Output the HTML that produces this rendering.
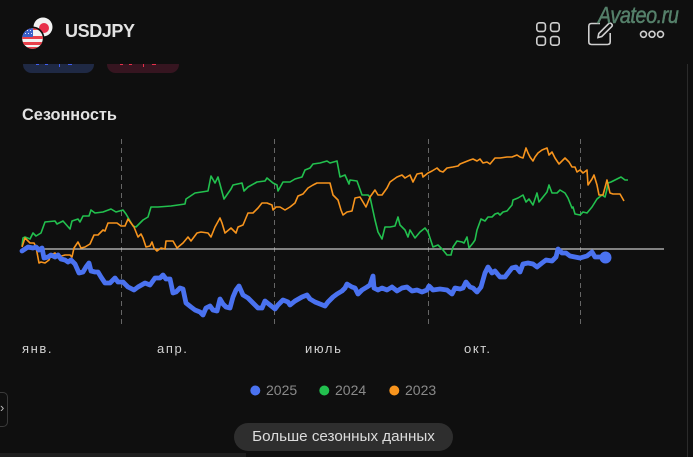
<!DOCTYPE html>
<html><head><meta charset="utf-8">
<style>
html,body{margin:0;padding:0;background:#0f0f0f;}
body{width:693px;height:457px;position:relative;overflow:hidden;font-family:"Liberation Sans",sans-serif;}
.abs{position:absolute;}
</style></head>
<body>
<div class="abs" style="left:0;top:0;width:693px;height:1px;background:#2a2a2a"></div>
<div class="abs" style="left:687px;top:0;width:1px;height:457px;background:#2b2b2b"></div>
<div class="abs" style="left:0;top:453px;width:246px;height:4px;background:#1e1e1e"></div>

<!-- pills (clipped) -->
<div class="abs" style="left:23px;top:56px;width:71px;height:17px;border-radius:9px;background:#1f2944;overflow:hidden"></div>
<div class="abs" style="left:0;top:0;width:693px;height:64px;background:#0f0f0f"></div>
<div class="abs" style="left:107px;top:56px;width:72px;height:17px;border-radius:9px;background:#361520;clip-path:inset(8px 0 0 0)"></div>
<div class="abs" style="left:36px;top:64px;width:3px;height:1px;background:#3f5ef0"></div>
<div class="abs" style="left:45px;top:64px;width:3px;height:1px;background:#3f5ef0"></div>
<div class="abs" style="left:59px;top:64px;width:1px;height:3px;background:#3f5ef0"></div>
<div class="abs" style="left:68px;top:64px;width:4px;height:1px;background:#3f5ef0"></div>
<div class="abs" style="left:120px;top:64px;width:3px;height:1px;background:#e8304a"></div>
<div class="abs" style="left:129px;top:64px;width:3px;height:1px;background:#e8304a"></div>
<div class="abs" style="left:143px;top:64px;width:1px;height:3px;background:#e8304a"></div>
<div class="abs" style="left:152px;top:64px;width:4px;height:1px;background:#e8304a"></div>

<!-- header -->
<svg class="abs" style="left:0;top:0" width="693" height="60">
  <circle cx="43" cy="27" r="9.5" fill="#f2f2f2"/>
  <circle cx="44" cy="28" r="5" fill="#e8304a"/>
  <circle cx="32.5" cy="38.5" r="12" fill="#0f0f0f"/>
  <clipPath id="us"><circle cx="32.5" cy="38.5" r="10.3"/></clipPath>
  <g clip-path="url(#us)">
    <rect x="20" y="27" width="26" height="24" fill="#f2f2f2"/>
    <rect x="20" y="36" width="26" height="3" fill="#e8404a"/>
    <rect x="20" y="42" width="26" height="3" fill="#e8404a"/>
    <rect x="20" y="47" width="26" height="4" fill="#e8404a"/>
    <rect x="20" y="27" width="26" height="3" fill="#e8404a"/>
    <rect x="20" y="27" width="13" height="10" fill="#3a5fc8"/>
    <g fill="#dfe6ff">
      <rect x="24" y="30" width="1" height="1"/><rect x="27" y="30" width="1" height="1"/><rect x="30" y="30" width="1" height="1"/>
      <rect x="25" y="33" width="1" height="1"/><rect x="28" y="33" width="1" height="1"/><rect x="31" y="33" width="1" height="1"/>
    </g>
  </g>
  <!-- grid icon -->
  <g fill="none" stroke="#cfcfcf" stroke-width="1.6">
    <rect x="536.8" y="22.8" width="8.6" height="8.6" rx="2.5"/>
    <rect x="550.6" y="22.8" width="8.6" height="8.6" rx="2.5"/>
    <rect x="536.8" y="36.6" width="8.6" height="8.6" rx="2.5"/>
    <rect x="550.6" y="36.6" width="8.6" height="8.6" rx="2.5"/>
    <path d="M600 23.5 H591.5 Q588.8 23.5 588.8 26.2 V41.8 Q588.8 44.5 591.5 44.5 H607.5 Q610.2 44.5 610.2 41.8 V33"/>
    <path d="M598 37.5 L598.8 33.5 L608.5 23.8 Q610 22.3 611.5 23.8 Q613 25.3 611.5 26.8 L601.8 36.5 Z"/>
    <circle cx="643.5" cy="34.3" r="3"/>
    <circle cx="652" cy="34.3" r="3"/>
    <circle cx="660.5" cy="34.3" r="3"/>
  </g>
</svg>
<div class="abs" style="left:65px;top:21px;font-size:18px;font-weight:bold;color:#e2e2e2;letter-spacing:-0.4px;">USDJPY</div>
<div class="abs" style="left:598px;top:2px;font-size:23px;font-style:italic;color:#55806a;-webkit-text-stroke:0.5px #55806a;transform:scaleX(0.86);transform-origin:0 0;letter-spacing:-0.5px;">Avateo.ru</div>

<div class="abs" style="left:22px;top:106px;font-size:16.3px;font-weight:bold;color:#e2e2e2;">Сезонность</div>

<!-- chart -->
<svg class="abs" style="left:0;top:0" width="693" height="457">
  <g stroke="#666" stroke-width="1" stroke-dasharray="5 4">
    <line x1="121.5" y1="139" x2="121.5" y2="328"/>
    <line x1="274.5" y1="139" x2="274.5" y2="328"/>
    <line x1="428.5" y1="139" x2="428.5" y2="328"/>
    <line x1="580.5" y1="139" x2="580.5" y2="328"/>
  </g>
  <line x1="22" y1="249" x2="664" y2="249" stroke="#c8c8c8" stroke-width="1.2"/>
  <polyline fill="none" stroke="#22c04e" stroke-width="1.6" stroke-linejoin="round" points="22,246 23,238 25,237 30,239 33,233 36,236 41,233 45,222 55,221 57,224 63,221 70,229 72,221 78,219 80,222 83,216 89,216 91,210 95,213 103,212 111,209 116,212 123,210 126,214 133,226 136,227 143,220 148,217 151,207 158,207 171,206 185,204 186,199 195,193 208,191 211,176 215,183 218,177 224,199 231,189 233,185 242,183 244,191 248,187 257,182 265,181 267,178 273,183 277,185 278,191 283,182 290,182 295,179 302,177 305,170 310,168 313,164 320,163 327,161 330,163 337,161 340,177 345,175 349,184 350,180 357,181 362,195 368,195 370,197 375,220 378,232 382,239 385,227 390,227 395,226 398,217 400,225 405,230 408,237 410,230 415,238 420,232 425,228 428,232 433,247 438,245 443,250 447,255 451,255 453,247 457,241 462,242 464,243 467,237 469,248 473,243 475,240 477,230 481,219 485,221 488,217 492,217 495,214 498,213 500,215 503,212 507,211 512,205 513,200 518,198 523,195 526,202 529,199 533,205 537,193 539,202 543,197 547,192 549,185 552,193 557,193 560,190 565,193 568,198 572,208 573,207 575,214 580,215 583,212 587,213 592,207 597,199 602,195 605,197 607,189 608,183 611,182 615,180 621,177 625,180 628,180"/>
  <polyline fill="none" stroke="#f7941d" stroke-width="1.6" stroke-linejoin="round" points="22,247 25,238 27,240 30,243 34,243 36,247 39,263 41,262 45,263 49,260 51,255 55,253 58,257 65,255 70,255 72,257 74,248 78,242 81,248 85,247 90,244 94,235 98,235 103,230 105,231 108,223 111,223 117,223 121,226 125,226 128,219 131,223 134,227 138,237 141,234 143,238 146,247 150,246 152,242 154,248 157,251 161,248 165,249 166,241 173,241 177,248 183,243 188,237 191,241 197,233 201,232 208,233 211,237 215,227 220,218 222,223 225,233 231,228 236,233 238,227 243,225 248,213 253,213 258,208 262,203 267,203 272,205 273,210 276,207 280,207 285,210 290,207 295,203 298,196 303,194 308,188 313,185 317,183 323,183 330,183 333,195 338,200 341,210 343,215 347,212 352,211 355,198 360,197 363,202 366,207 370,197 375,190 378,195 382,195 387,188 390,182 397,177 402,175 405,178 410,175 413,182 417,174 422,173 423,177 428,173 432,171 437,168 440,171 443,172 447,168 453,167 458,166 460,164 465,162 470,160 473,159 477,161 480,159 483,163 487,162 490,164 495,158 500,158 507,157 512,157 517,155 520,157 523,158 526,148 528,153 530,157 533,161 535,157 538,153 542,150 547,148 549,155 552,152 555,158 559,164 565,158 569,162 572,167 575,167 577,172 580,170 583,173 587,170 588,185 592,179 594,175 597,185 599,195 603,195 607,180 610,193 613,194 620,194 624,201"/>
  <polyline fill="none" stroke="#4a72f0" stroke-width="4.8" stroke-linejoin="round" stroke-linecap="round" points="22,251 28,247 33,248 36,247 39,250 42,248 44,258 48,257 51,255 55,257 58,255 61,259 65,260 68,262 71,260 75,264 79,273 83,272 86,267 89,263 91,271 95,272 98,272 101,277 105,283 110,283 115,278 118,282 123,282 128,287 134,290 138,287 145,283 150,285 155,278 160,278 163,275 166,279 170,279 173,293 176,292 180,288 183,289 186,303 191,307 195,310 200,312 203,315 206,308 210,306 213,310 217,311 220,299 223,304 226,307 230,308 233,297 236,290 239,286 243,295 248,298 253,303 258,308 262,308 265,301 270,305 275,309 278,305 283,300 288,302 290,305 295,301 302,297 307,295 310,299 315,302 320,304 325,306 328,302 333,297 337,294 342,291 345,288 347,284 352,287 355,288 358,294 362,290 367,287 370,285 373,276 374,288 378,290 382,288 387,290 392,287 397,291 402,288 407,287 412,291 417,290 422,292 427,290 429,286 433,290 440,289 447,290 452,294 455,288 460,289 463,288 466,282 470,287 473,288 477,292 481,287 485,273 488,267 492,273 495,271 500,277 505,277 508,273 512,268 516,267 520,272 523,264 528,263 533,264 537,267 542,263 546,260 552,261 556,257 558,249 562,253 566,253 570,256 575,257 580,258 587,256 592,252 595,257 600,257 605,257"/>
  <circle cx="605.5" cy="257.5" r="6" fill="#4a72f0"/>
  <!-- legend dots -->
  <circle cx="255.3" cy="390.5" r="5" fill="#4a72f0"/>
  <circle cx="324.3" cy="390.5" r="5" fill="#22c04e"/>
  <circle cx="394.3" cy="390.5" r="5" fill="#f7941d"/>
</svg>

<!-- month labels -->
<div class="abs" style="left:22px;top:341px;font-size:13px;color:#d2d2d2;letter-spacing:1.6px;">янв.</div>
<div class="abs" style="left:157px;top:341px;font-size:13px;color:#d2d2d2;letter-spacing:1.6px;">апр.</div>
<div class="abs" style="left:305px;top:341px;font-size:13px;color:#d2d2d2;letter-spacing:1.6px;">июль</div>
<div class="abs" style="left:464px;top:341px;font-size:13px;color:#d2d2d2;letter-spacing:1.6px;">окт.</div>

<!-- legend text -->
<div class="abs" style="left:266px;top:382px;font-size:14px;color:#8a8a8a;">2025</div>
<div class="abs" style="left:335px;top:382px;font-size:14px;color:#8a8a8a;">2024</div>
<div class="abs" style="left:405px;top:382px;font-size:14px;color:#8a8a8a;">2023</div>

<!-- button -->
<div class="abs" style="left:234px;top:423px;width:219px;height:28px;border-radius:14px;background:#2e2e2e;color:#dcdcdc;font-size:15.2px;line-height:28px;text-align:center;white-space:nowrap;">Больше сезонных данных</div>

<!-- left tab -->
<div class="abs" style="left:-8px;top:392px;width:14px;height:33px;border:1px solid #3a3a3a;border-radius:5px;"></div>
<div class="abs" style="left:0px;top:400px;font-size:13px;color:#bbb;">›</div>
</body></html>
